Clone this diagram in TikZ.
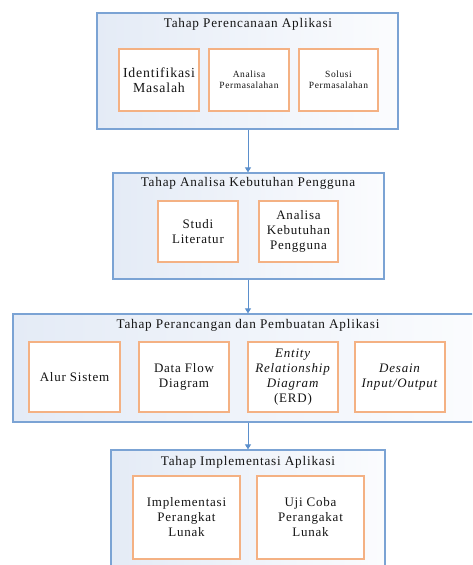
\documentclass[tikz,border=0pt]{standalone}
\usepackage{fontspec}
\setmainfont{Liberation Serif}[LetterSpace=6]
\usetikzlibrary{arrows.meta}
\definecolor{stageline}{HTML}{7BA3D4}
\definecolor{stagefillA}{HTML}{E4EBF6}
\definecolor{stagefillB}{HTML}{FBFCFE}
\definecolor{taskline}{HTML}{F4B183}
\definecolor{flowline}{HTML}{5B8FCC}
\definecolor{ink}{HTML}{141414}
\tikzset{
  stage/.style={draw=stageline, line width=1.3pt, left color=stagefillA, right color=stagefillB,
    inner sep=0pt, minimum width=#1},
  stagetitle/.style={text=ink, font=\fontsize{13.2}{15}\selectfont, inner sep=0pt},
  task/.style={draw=taskline, line width=1.6pt, fill=white, text=ink, align=center,
    inner sep=0pt, font=\fontsize{13}{15}\selectfont},
  smalltask/.style={task, font=\fontsize{9.5}{11}\selectfont},
  flow/.style={draw=flowline, line width=1pt, -{Triangle[width=6pt,length=5pt]}}
}
\begin{document}
\begin{tikzpicture}[x=1pt,y=-1pt]
\clip (0,0) rectangle (472,565);
\fill[white] (0,0) rectangle (472,565);

% Stage 1
\node[stage=301pt, minimum height=116pt] (s1) at (247.5,71) {};
\node[stagetitle] (t1) at (248,24) {Tahap Perencanaan Aplikasi};
\node[task, minimum width=80pt, minimum height=62pt, font=\fontsize{13.8}{15}\selectfont] (a1) at (159,80) {Identifikasi\\Masalah};
\node[smalltask, minimum width=80pt, minimum height=62pt] (a2) at (249,80) {Analisa\\Permasalahan};
\node[smalltask, minimum width=79pt, minimum height=62pt] (a3) at (338.5,80) {Solusi\\Permasalahan};

% Stage 2
\node[stage=271pt, minimum height=106pt] (s2) at (248.5,226) {};
\node[stagetitle] (t2) at (248,183.5) {Tahap Analisa Kebutuhan Pengguna};
\node[task, minimum width=80pt, minimum height=61pt] (b1) at (198,231.5) {Studi\\Literatur};
\node[task, minimum width=79pt, minimum height=61pt] (b2) at (298.5,231.5) {Analisa\\Kebutuhan\\Pengguna};

% Stage 3
\node[stage=470pt, minimum height=108pt] (s3) at (248,368) {};
\node[stagetitle] (t3) at (248,325.5) {Tahap Perancangan dan Pembuatan Aplikasi};
\node[task, minimum width=91pt, minimum height=70pt] (c1) at (74.5,377) {Alur Sistem};
\node[task, minimum width=90pt, minimum height=70pt] (c2) at (184,377) {Data Flow\\Diagram};
\node[task, minimum width=90pt, minimum height=70pt] (c3) at (293,377) {\textit{Entity}\\\textit{Relationship}\\\textit{Diagram}\\(ERD)};
\node[task, minimum width=90pt, minimum height=70pt] (c4) at (400,377) {\textit{Desain}\\\textit{Input/Output}};

% Stage 4
\node[stage=274pt, minimum height=125pt] (s4) at (248,512.5) {};
\node[stagetitle] (t4) at (248,462) {Tahap Implementasi Aplikasi};
\node[task, minimum width=107pt, minimum height=83pt] (d1) at (186.5,517.5) {Implementasi\\Perangkat\\Lunak};
\node[task, minimum width=107pt, minimum height=83pt] (d2) at (310.5,517.5) {Uji Coba\\Perangakat\\Lunak};

% Flow between stages
\draw[flow] (s1.south -| t1) -- (s2.north -| t1);
\draw[flow] (s2.south -| t1) -- (s3.north -| t1);
\draw[flow] (s3.south -| t1) -- (s4.north -| t1);
\end{tikzpicture}
\end{document}
